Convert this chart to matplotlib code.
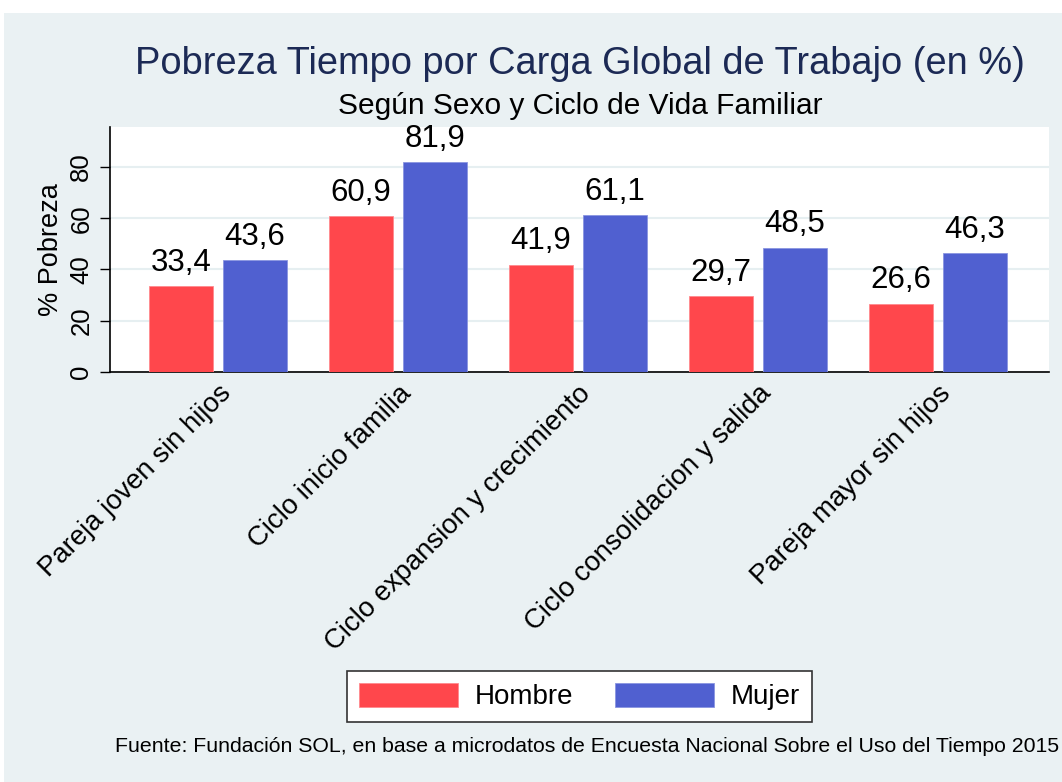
import matplotlib
matplotlib.use("Agg")
import matplotlib.pyplot as plt
import numpy as np
from matplotlib.patches import Rectangle

categories = ["Pareja joven sin hijos", "Ciclo inicio familia",
              "Ciclo expansion y crecimiento", "Ciclo consolidacion y salida",
              "Pareja mayor sin hijos"]
hombre = [33.4, 60.9, 41.9, 29.7, 26.6]
mujer = [43.6, 81.9, 61.1, 48.5, 46.3]
series_names = ["Hombre", "Mujer"]
yticks = [0, 20, 40, 60, 80]

RED = "#FF474C"
BLUE = "#5060D0"
BG = "#EAF1F3"
GRID = "#E6EFF1"

plt.rcParams['font.family'] = ['Liberation Sans', 'DejaVu Sans']

fig = plt.figure(figsize=(10.62, 7.82), dpi=100)
fig.patch.set_facecolor("white")
fig.patches.append(Rectangle((4/1062, 0), 1, 1 - 13/782, transform=fig.transFigure,
                             facecolor=BG, edgecolor="none", zorder=-10))

ax = fig.add_axes([110/1062, 1 - 372/782, (1049-110)/1062, (372-127)/782])
ax.set_facecolor("white")

x = np.arange(len(categories))
w = 0.356
off = 0.206
b1 = ax.bar(x - off, hombre, w, color=RED, edgecolor="#FF8A8E", linewidth=0.6, zorder=3, label=series_names[0])
b2 = ax.bar(x + off, mujer, w, color=BLUE, edgecolor="#8A95E0", linewidth=0.6, zorder=3, label=series_names[1])

for bars, vals in ((b1, hombre), (b2, mujer)):
    for r, v in zip(bars, vals):
        ax.annotate(f"{v:.1f}".replace(".", ","), (r.get_x() + r.get_width()/2, v),
                    xytext=(0, 6), textcoords="offset points", ha="center", va="bottom",
                    fontsize=22.5, color="black")

ax.set_xlim(-0.6, 4.617)
ax.set_ylim(0, 95.6)
ax.set_yticks(yticks)
ax.set_yticklabels([str(t) for t in yticks], rotation=90, va="center", fontsize=18.5)
ax.yaxis.grid(True, color=GRID, linewidth=1.5, zorder=0)
ax.set_axisbelow(True)
ax.tick_params(axis="y", length=7, width=1, pad=5)
ax.tick_params(axis="x", length=0, pad=6)
ax.set_xticks(x)
ax.set_xticklabels(categories, rotation=45, ha="right", rotation_mode="anchor", fontsize=19.8)
for s in ("top", "right"):
    ax.spines[s].set_visible(False)
ax.spines["left"].set_linewidth(1.2)
ax.spines["bottom"].set_linewidth(1.2)
ax.set_ylabel("% Pobreza", fontsize=19.5, labelpad=4)

fig.text(580/1062, 1 - 64/782, "Pobreza Tiempo por Carga Global de Trabajo (en %)",
         ha="center", va="center", fontsize=27.4, color="#1C2A55")
fig.text(580/1062, 1 - 106/782, "Según Sexo y Ciclo de Vida Familiar",
         ha="center", va="center", fontsize=21.5, color="black")

leg = fig.legend(handles=[b1, b2], labels=series_names, loc="center",
                 bbox_to_anchor=(579.5/1062, 1 - 696.5/782), ncol=2, fontsize=20,
                 handlelength=3.55, handleheight=0.95, handletextpad=0.62, columnspacing=1.5,
                 frameon=True, fancybox=False, edgecolor="#333333", facecolor="white",
                 framealpha=1.0, borderpad=0.42)
leg.get_frame().set_linewidth(1.2)

fig.text(115/1062, 1 - 746/782,
         "Fuente: Fundación SOL, en base a microdatos de Encuesta Nacional Sobre el Uso del Tiempo 2015",
         ha="left", va="center", fontsize=15.3, color="black")

fig.savefig("out.png", dpi=100)
